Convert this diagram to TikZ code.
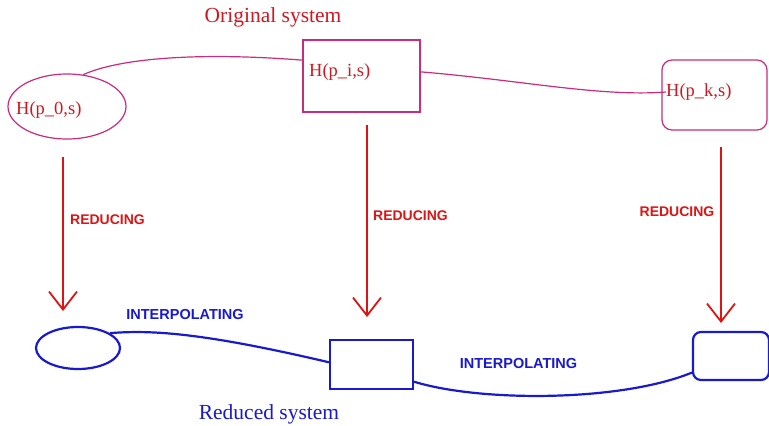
\documentclass[tikz,border=0pt]{standalone}
\usepackage{fontspec}
\setmainfont{Liberation Serif}
\newfontfamily\lblfont{Liberation Sans}
\usetikzlibrary{arrows.meta,shapes.geometric}
\definecolor{txtred}{RGB}{205,25,35}
\definecolor{shpink}{RGB}{200,45,125}
\definecolor{arrred}{RGB}{220,20,20}
\definecolor{myblue}{RGB}{25,25,205}
\tikzset{
  pinkline/.style={draw=shpink, line width=1.2pt},
  blueline/.style={draw=myblue, line width=2.2pt},
  redarrow/.style={draw=arrred, line width=1.8pt, -{Straight Barb[length=18pt,width=28pt,line width=1.8pt]}},
  nodetxt/.style={font=\fontsize{18.5}{20}\selectfont, text=txtred, inner sep=0pt},
  redlbl/.style={font=\lblfont\bfseries\fontsize{14}{15}\selectfont, text=arrred, inner sep=0pt},
  bluelbl/.style={font=\lblfont\bfseries\fontsize{14.5}{15}\selectfont, text=myblue, inner sep=0pt},
  titletxt/.style={font=\fontsize{21.5}{23}\selectfont, inner sep=0pt},
}
\begin{document}
\begin{tikzpicture}[x=1pt,y=-1pt]
\useasboundingbox (0,0) rectangle (769,426);
\fill[white] (0,0) rectangle (769,426);
% titles
\node[titletxt, text=txtred] (otitle) at (273,17) {Original system};
\node[titletxt, text=myblue] (rtitle) at (269,414) {Reduced system};
% top nodes
\node[ellipse, pinkline, minimum width=118pt, minimum height=65pt, inner sep=0pt] (e0) at (67,106.5) {};
\node[nodetxt, anchor=west] (t0) at (16,110) {H(p\_0,s)};
\node[rectangle, pinkline, minimum width=117pt, minimum height=72pt, inner sep=0pt] (pi) at (361.5,76) {};
\node[nodetxt, anchor=west] (ti) at (309,72) {H(p\_i,s)};
\node[rectangle, rounded corners=10pt, pinkline, minimum width=105pt, minimum height=70pt, inner sep=0pt] (pk) at (714.5,95) {};
\node[nodetxt, anchor=west] (tk) at (666,92) {H(p\_k,s)};
% top connectors
\draw[pinkline] (e0.63) .. controls (120,58) and (200,52) .. (pi.165);
\draw[pinkline] (pi.4) .. controls (520,80) and (600,97) .. (tk.west);
% bottom nodes
\node[ellipse, blueline, minimum width=84pt, minimum height=42pt, inner sep=0pt] (be) at (78,348) {};
\node[rectangle, blueline, minimum width=83pt, minimum height=49pt, inner sep=0pt] (br) at (371.5,364.5) {};
\node[rectangle, rounded corners=8pt, blueline, minimum width=76pt, minimum height=48pt, inner sep=0pt] (bk) at (731,356) {};
% bottom connectors
\draw[blueline] (be.25) .. controls (150,330) and (200,332) .. (br.177);
\draw[blueline] (br.338) .. controls (480,402) and (620,402) .. (bk.203);
% reducing arrows
\coordinate (r0s) at (63,157); \coordinate (r0e) at (63,311);
\coordinate (r1s) at (367,125); \coordinate (r1e) at (367,317);
\coordinate (r2s) at (721,147); \coordinate (r2e) at (721,323);
\draw[redarrow] (r0s) -- (r0e);
\draw[redarrow] (r1s) -- (r1e);
\draw[redarrow] (r2s) -- (r2e);
% labels
\node[redlbl] (l0) at (107.5,220) {REDUCING};
\node[redlbl] (l1) at (410.5,216) {REDUCING};
\node[redlbl] (l2) at (677,212) {REDUCING};
\node[bluelbl] (i1) at (185,315) {INTERPOLATING};
\node[bluelbl] (i2) at (518.5,364) {INTERPOLATING};
\end{tikzpicture}
\end{document}
